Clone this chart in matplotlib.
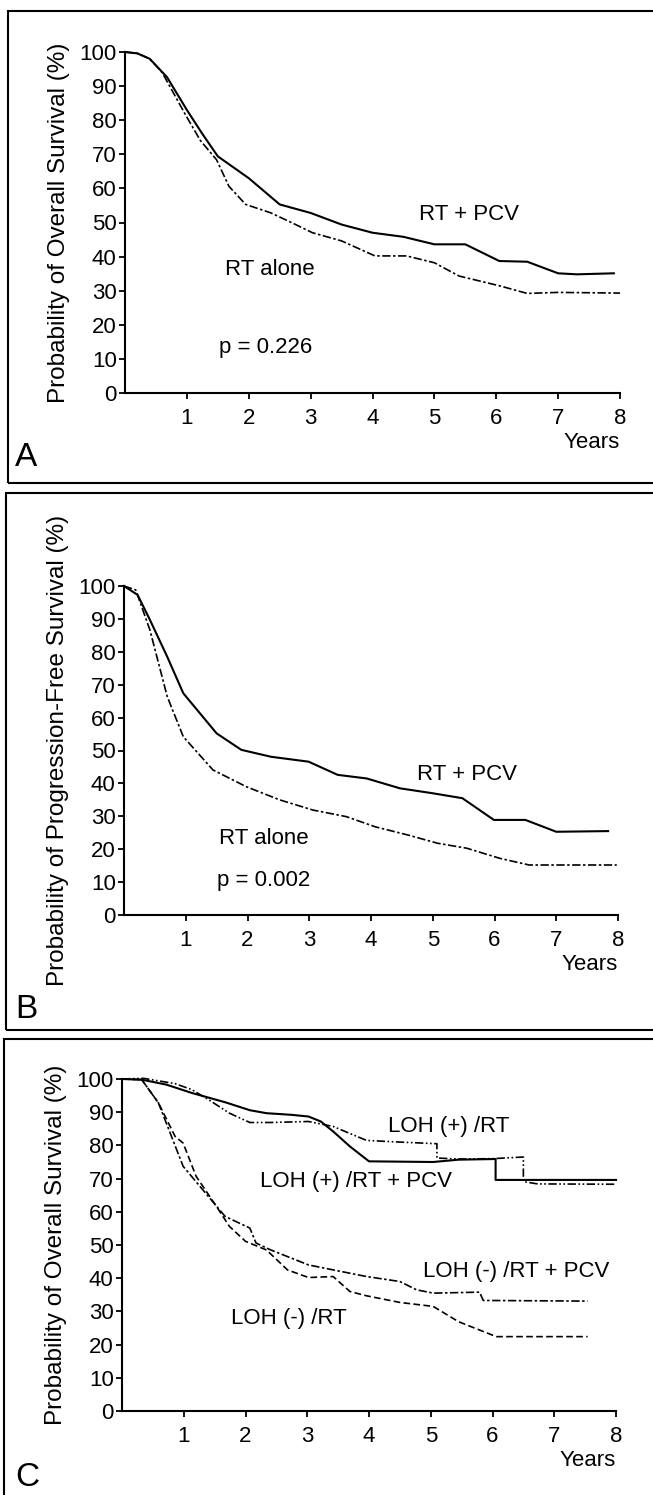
import numpy as np
from matplotlib import pyplot as plt
from matplotlib.patches import Rectangle

plt.rcParams['font.family'] = ['Liberation Sans', 'DejaVu Sans']

# %% data (years, survival %)
# A: overall survival
a_pcv_t = [0, 0.2, 0.4, 0.68, 1.0, 1.25, 1.5, 2.0, 2.5, 3.0, 3.5, 4.0, 4.5, 5.0, 5.5, 6.05, 6.5, 7.0, 7.3, 7.9]
a_pcv_s = [100, 99.6, 98.0, 92.6, 83, 76, 69.4, 63, 55.3, 52.8, 49.4, 47, 45.8, 43.6, 43.6, 38.7, 38.5, 35.1, 34.8, 35.1]
a_rt_t = [0, 0.2, 0.4, 0.6, 0.98, 1.22, 1.48, 1.68, 1.95, 2.36, 2.7, 3.03, 3.5, 4.04, 4.55, 5.0, 5.4, 6.06, 6.5, 7.0, 8.0]
a_rt_s = [100, 99.6, 98.0, 94, 81.5, 74, 68.4, 60.6, 55.3, 52.8, 49.9, 47, 44.6, 40.2, 40.2, 38.2, 34.3, 31.4, 29.2, 29.5, 29.3]

# B: progression-free survival
b_pcv_t = [0, 0.22, 0.42, 0.7, 0.96, 1.23, 1.5, 1.9, 2.38, 2.99, 3.46, 3.93, 4.47, 5.0, 5.48, 5.99, 6.5, 7.0, 7.84]
b_pcv_s = [100, 97.3, 89.7, 78.5, 67.4, 61.3, 55.2, 50.2, 48.1, 46.6, 42.6, 41.5, 38.5, 37, 35.5, 28.9, 28.9, 25.3, 25.5]
b_rt_t = [0, 0.19, 0.42, 0.7, 0.96, 1.44, 1.98, 2.52, 3.06, 3.6, 4.07, 4.6, 5.08, 5.55, 6.09, 6.56, 7.98]
b_rt_s = [100, 98.8, 86.6, 66.4, 54.2, 44.1, 39, 35, 31.9, 29.9, 26.8, 24.3, 21.8, 20.3, 17.2, 15.2, 15.2]

# C: overall survival by LOH status
c_pos_pcv_t = [0, 0.32, 0.72, 1.13, 1.67, 2.07, 2.34, 2.75, 3.02, 3.22, 3.42, 3.69, 4.0, 5.04, 5.45, 6.05, 6.05, 8.0]
c_pos_pcv_s = [100, 99.8, 98.3, 95.8, 93.0, 90.6, 89.7, 89.2, 88.7, 87.2, 84.2, 79.7, 75.2, 75.0, 75.7, 75.9, 69.6, 69.6]
c_pos_rt_t = [0, 0.35, 0.86, 1.13, 1.4, 1.74, 2.07, 2.41, 3.02, 3.42, 3.96, 4.5, 5.1, 5.1, 5.45, 5.99, 6.5, 6.5, 6.73, 8.0]
c_pos_rt_s = [100, 100.2, 98.6, 96.8, 93.8, 89.7, 86.9, 86.9, 87.2, 85.7, 81.5, 81.0, 80.5, 76.2, 75.9, 76.0, 76.5, 69.1, 68.4, 68.3]
c_neg_pcv_t = [0, 0.32, 0.59, 0.99, 1.4, 1.67, 2.07, 2.17, 2.41, 3.02, 3.42, 3.96, 4.5, 4.77, 5.04, 5.79, 5.85, 7.54]
c_neg_pcv_s = [100, 99.8, 92.8, 73.7, 64.6, 58.6, 55.1, 50.6, 48.5, 44.0, 42.5, 40.5, 39.0, 36.5, 35.5, 35.8, 33.3, 33.1]
c_neg_rt_t = [0, 0.32, 0.59, 0.86, 0.99, 1.2, 1.53, 1.74, 2.0, 2.34, 2.68, 3.02, 3.42, 3.69, 3.96, 4.5, 5.04, 5.45, 6.06, 7.54]
c_neg_rt_s = [100, 99.8, 92.8, 82.7, 80.7, 70.7, 61.6, 55.6, 51.1, 48.5, 42.5, 40.2, 40.5, 36.0, 34.7, 32.7, 31.5, 26.9, 22.4, 22.4]

x_ticks = [1, 2, 3, 4, 5, 6, 7, 8]
y_ticks = [0, 10, 20, 30, 40, 50, 60, 70, 80, 90, 100]

# %% layout in pixels
W, H = 653, 1495
fig = plt.figure(figsize=(W / 100, H / 100), dpi=100)

def px_axes(l, r, t, b):
    return fig.add_axes([l / W, 1 - b / H, (r - l) / W, (b - t) / H])

def style(ax, ylabel):
    ax.set_xlim(0, 8)
    ax.set_ylim(0, 100)
    for s in ('top', 'right'):
        ax.spines[s].set_visible(False)
    for s in ('left', 'bottom'):
        ax.spines[s].set_linewidth(1.5)
    ax.set_xticks(x_ticks)
    ax.set_yticks(y_ticks)
    ax.tick_params(axis='both', direction='out', length=4, width=1.3, labelsize=16)
    ax.tick_params(axis='x', pad=7)
    ax.tick_params(axis='y', pad=2)
    ax.set_ylabel(ylabel, fontsize=17.5)
    ax.yaxis.set_label_coords(-0.112, 0.5)
    ax.annotate('Years', xy=(8, 0), xytext=(0, -50), textcoords='offset pixels',
                ha='right', va='center', fontsize=16)

solid = dict(color='black', lw=1.5, clip_on=False)
dashdot = dict(color='black', lw=1.2, ls=(0, (5, 1.5, 1.5, 1.5)), clip_on=False)

# panel A
axA = px_axes(125, 620, 52, 393)
axA.plot(a_pcv_t, a_pcv_s, **solid)
axA.plot(a_rt_t, a_rt_s, **dashdot)
style(axA, 'Probability of Overall Survival (%)')
axA.text(4.75, 52.2, 'RT + PCV', fontsize=16, va='center')
axA.text(1.62, 36.1, 'RT alone', fontsize=16, va='center')
axA.text(1.52, 13.2, 'p = 0.226', fontsize=16, va='center')

# panel B
axB = px_axes(124, 618, 586, 915)
axB.plot(b_pcv_t, b_pcv_s, **solid)
axB.plot(b_rt_t, b_rt_s, **dashdot)
style(axB, 'Probability of Progression-Free Survival (%)')
axB.text(4.74, 42.6, 'RT + PCV', fontsize=16, va='center')
axB.text(1.54, 23.3, 'RT alone', fontsize=16, va='center')
axB.text(1.50, 10.6, 'p = 0.002', fontsize=16, va='center')

# panel C
axC = px_axes(122, 616, 1079, 1411)
axC.plot(c_pos_pcv_t, c_pos_pcv_s, **solid)
axC.plot(c_pos_rt_t, c_pos_rt_s, color='black', lw=1.2,
         ls=(0, (5, 1.5, 1, 1.5, 1, 1.5)), clip_on=False)
axC.plot(c_neg_pcv_t, c_neg_pcv_s, **dashdot)
axC.plot(c_neg_rt_t, c_neg_rt_s, color='black', lw=1.2, ls=(0, (4, 2)), clip_on=False)
style(axC, 'Probability of Overall Survival (%)')
axC.text(4.30, 85.6, 'LOH (+) /RT', fontsize=16, va='center')
axC.text(2.24, 69.1, 'LOH (+) /RT + PCV', fontsize=16, va='center')
axC.text(4.87, 42.0, 'LOH (-) /RT + PCV', fontsize=16, va='center')
axC.text(1.77, 28.0, 'LOH (-) /RT', fontsize=16, va='center')

# panel frames and letters
for l, t, b, letter, ly in [(8, 11, 483, 'A', 458), (6, 493, 1030, 'B', 1010), (4, 1039, 1510, 'C', 1478)]:
    fig.patches.append(Rectangle((l / W, 1 - b / H), (W + 10 - l) / W, (b - t) / H,
                                 transform=fig.transFigure, fill=False, lw=1.5, ec='black'))
    fig.text(15 / W, 1 - ly / H, letter, fontsize=24, va='center', ha='left')

fig.savefig('out.png', dpi=100)
